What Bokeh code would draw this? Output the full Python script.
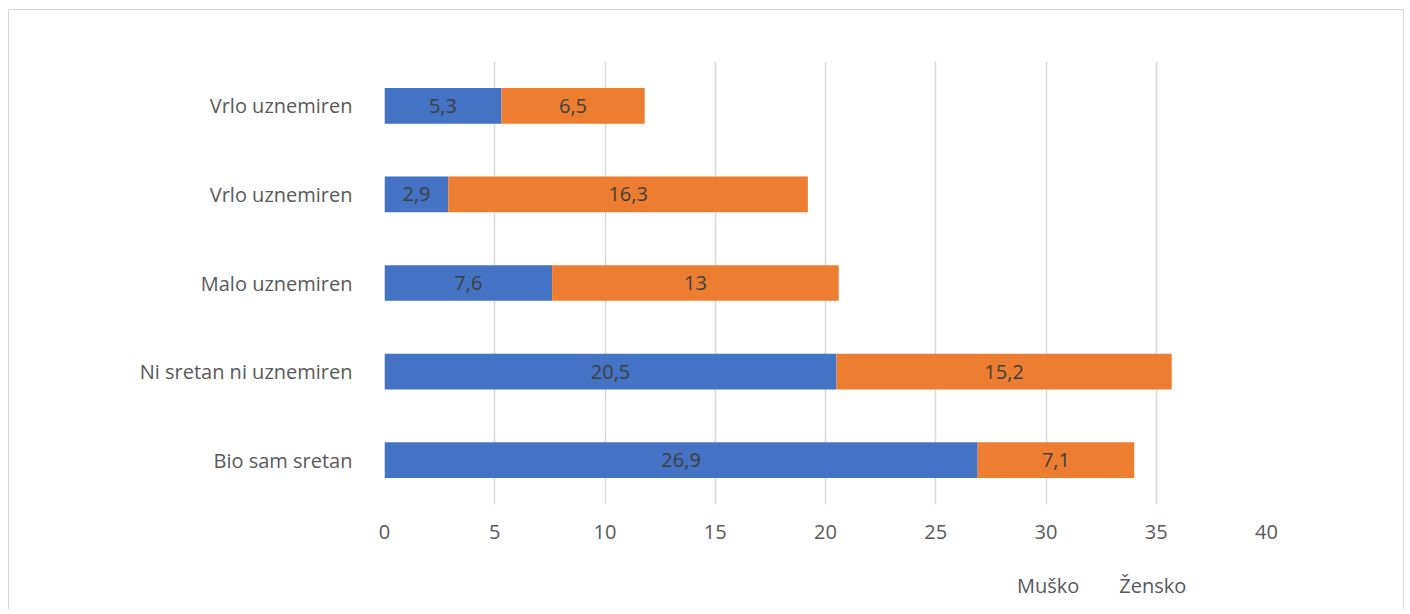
from bokeh.plotting import figure
from bokeh.layouts import column
from bokeh.models import ColumnDataSource, Range1d, FixedTicker, Legend, LegendItem
from bokeh.core.properties import value
from bokeh.embed import file_html
from bokeh.resources import INLINE

categories = ["Bio sam sretan", "Ni sretan ni uznemiren", "Malo uznemiren", "Vrlo uznemiren", "Vrlo uznemiren"]
musko = [26.9, 20.5, 7.6, 2.9, 5.3]
zensko = [7.1, 15.2, 13, 16.3, 6.5]
x_ticks = [0, 5, 10, 15, 20, 25, 30, 35, 40]
series_names = ["Muško", "Žensko"]

FONT = "Open Sans"
BLUE = "#4472C4"
ORANGE = "#ED7D31"
BORDER = "1.5px solid #D6D6D6"

def fmt(v):
    s = ("%g" % v)
    return s.replace(".", ",")

ypos = list(range(len(categories)))
src = ColumnDataSource(dict(
    y=ypos,
    m_left=[0] * len(musko),
    m_right=musko,
    z_left=musko,
    z_right=[a + b for a, b in zip(musko, zensko)],
    m_mid=[v / 2 for v in musko],
    z_mid=[a + b / 2 for a, b in zip(musko, zensko)],
    m_lab=[fmt(v) for v in musko],
    z_lab=[fmt(v) for v in zensko],
))

# ---------------- main chart ----------------
p = figure(width=1396, height=560, output_backend="svg", toolbar_location=None,
           x_range=Range1d(0, 40), y_range=Range1d(-0.5, len(categories) - 0.5),
           min_border_left=375, min_border_right=139, min_border_top=51, min_border_bottom=66)
p.styles = {"border-top": BORDER, "border-left": BORDER, "border-right": BORDER}
p.outline_line_color = None
p.background_fill_color = "white"
p.border_fill_color = "white"

p.hbar(y="y", left="m_left", right="m_right", height=0.403, source=src,
       fill_color=BLUE, line_color=None)
p.hbar(y="y", left="z_left", right="z_right", height=0.403, source=src,
       fill_color=ORANGE, line_color=None)

p.text(x="m_mid", y="y", text="m_lab", source=src, text_align="center", text_baseline="middle",
       text_font=value(FONT), text_font_size="20px", text_color="#404040")
p.text(x="z_mid", y="y", text="z_lab", source=src, text_align="center", text_baseline="middle",
       text_font=value(FONT), text_font_size="20px", text_color="#404040")

p.xaxis.ticker = FixedTicker(ticks=x_ticks)
p.xaxis.axis_line_color = None
p.xaxis.major_tick_line_color = None
p.xaxis.minor_tick_line_color = None
p.xaxis.major_tick_out = 0
p.xaxis.major_tick_in = 0
p.xaxis.major_label_standoff = 20
p.xaxis.major_label_text_font = FONT
p.xaxis.major_label_text_font_size = "20px"
p.xaxis.major_label_text_color = "#595959"

p.yaxis.ticker = FixedTicker(ticks=ypos)
p.yaxis.major_label_overrides = {i: c for i, c in enumerate(categories)}
p.yaxis.axis_line_color = None
p.yaxis.major_tick_line_color = None
p.yaxis.minor_tick_line_color = None
p.yaxis.major_tick_out = 0
p.yaxis.major_tick_in = 0
p.yaxis.major_label_standoff = 32
p.yaxis.major_label_text_font = FONT
p.yaxis.major_label_text_font_size = "20px"
p.yaxis.major_label_text_color = "#595959"

p.xgrid.grid_line_color = "#D9D9D9"
p.xgrid.grid_line_width = 1.5
p.ygrid.grid_line_color = None

# ---------------- legend strip ----------------
p2 = figure(width=1396, height=40, output_backend="svg", toolbar_location=None,
            x_range=Range1d(0, 1), y_range=Range1d(0, 1),
            x_axis_location=None, y_axis_location=None,
            min_border_left=0, min_border_right=0, min_border_top=0, min_border_bottom=0)
p2.styles = {"border-left": BORDER, "border-right": BORDER}
p2.outline_line_color = None
p2.grid.visible = False
p2.background_fill_color = "white"
p2.border_fill_color = "white"

empty = ColumnDataSource(dict(y=[], left=[], right=[]))
k1 = p2.hbar(y="y", left="left", right="right", height=0.4, source=empty, fill_color=BLUE, line_color=None)
k2 = p2.hbar(y="y", left="left", right="right", height=0.4, source=empty, fill_color=ORANGE, line_color=None)

legend = Legend(items=[LegendItem(label=series_names[0], renderers=[k1]),
                       LegendItem(label=series_names[1], renderers=[k2])],
                orientation="horizontal", location=(613, 10),
                glyph_width=14, glyph_height=14, label_standoff=6, spacing=20,
                padding=0, margin=0, border_line_color=None, background_fill_alpha=0,
                label_text_font=FONT, label_text_font_size="20px", label_text_color="#595959",
                label_height=20)
p2.add_layout(legend, "center")

layout = column(p, p2, spacing=0)
layout.styles = {"margin-left": "8px", "margin-top": "9px"}

open("out.html", "w").write(file_html(layout, INLINE))
